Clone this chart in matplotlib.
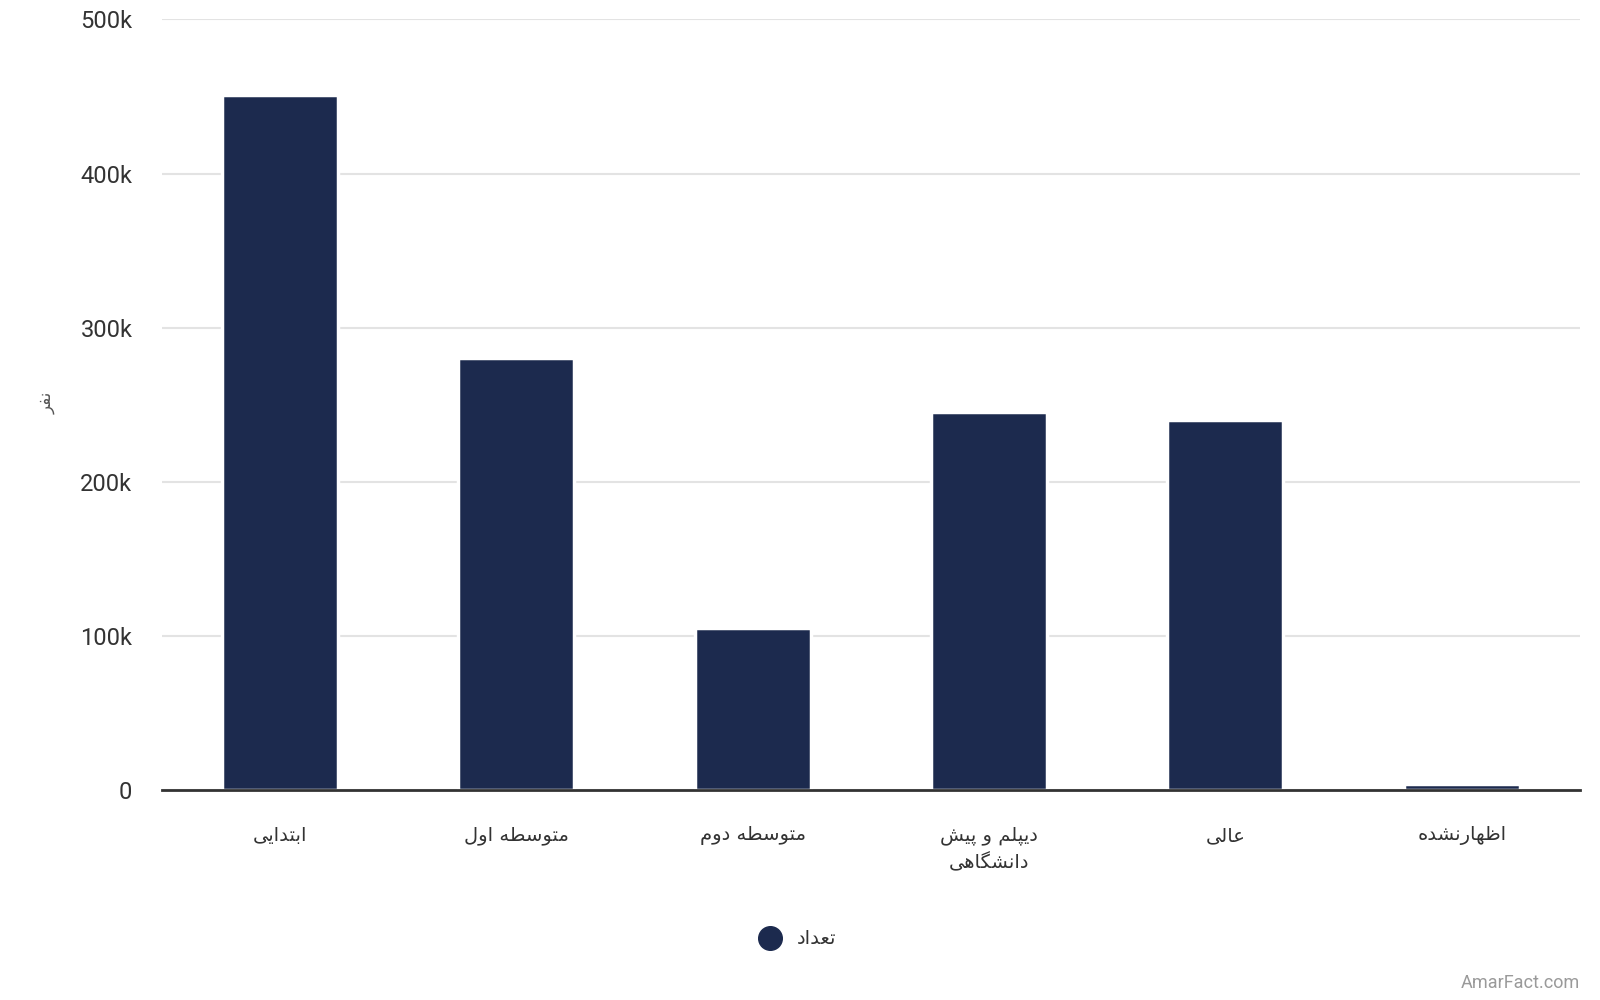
import matplotlib
matplotlib.use('Agg')
import matplotlib.pyplot as plt
from matplotlib.ticker import FuncFormatter
from matplotlib.lines import Line2D

# data
categories = ['ابتدایی', 'متوسطه اول', 'متوسطه دوم', 'دیپلم و پیش\nدانشگاهی', 'عالی', 'اظهارنشده']
values = [451000, 280000, 105000, 245000, 240000, 4000]
series_name = 'تعداد'
y_label = 'نفر'
y_ticks = [0, 100000, 200000, 300000, 400000, 500000]

bar_color = '#1c2a4e'
text_color = '#333333'

# matplotlib 3.10 has no arabic shaping, so pick contextual forms by hand
# (isolated, final, initial, medial)
FORMS = {
    'ا': ('\uFE8D', '\uFE8E', None, None),
    'ب': ('\uFE8F', '\uFE90', '\uFE91', '\uFE92'),
    'پ': ('\uFB56', '\uFB57', '\uFB58', '\uFB59'),
    'ت': ('\uFE95', '\uFE96', '\uFE97', '\uFE98'),
    'د': ('\uFEA9', '\uFEAA', None, None),
    'ر': ('\uFEAD', '\uFEAE', None, None),
    'س': ('\uFEB1', '\uFEB2', '\uFEB3', '\uFEB4'),
    'ش': ('\uFEB5', '\uFEB6', '\uFEB7', '\uFEB8'),
    'ط': ('\uFEC1', '\uFEC2', '\uFEC3', '\uFEC4'),
    'ظ': ('\uFEC5', '\uFEC6', '\uFEC7', '\uFEC8'),
    'ع': ('\uFEC9', '\uFECA', '\uFECB', '\uFECC'),
    'ف': ('\uFED1', '\uFED2', '\uFED3', '\uFED4'),
    'گ': ('\uFB92', '\uFB93', '\uFB94', '\uFB95'),
    'ل': ('\uFEDD', '\uFEDE', '\uFEDF', '\uFEE0'),
    'م': ('\uFEE1', '\uFEE2', '\uFEE3', '\uFEE4'),
    'ن': ('\uFEE5', '\uFEE6', '\uFEE7', '\uFEE8'),
    'ه': ('\uFEE9', '\uFEEA', '\uFEEB', '\uFEEC'),
    'و': ('\uFEED', '\uFEEE', None, None),
    'ی': ('\uFBFC', '\uFBFD', '\uFBFE', '\uFBFF'),
}


def dual(c):
    return c in FORMS and FORMS[c][2] is not None


def shape_line(s):
    out = []
    for i, c in enumerate(s):
        if c not in FORMS:
            out.append(c)
            continue
        prev = s[i - 1] if i > 0 else ''
        nxt = s[i + 1] if i + 1 < len(s) else ''
        jp = dual(prev)
        jn = dual(c) and nxt in FORMS
        iso, fin, ini, med = FORMS[c]
        if jp and jn:
            out.append(med)
        elif jp:
            out.append(fin)
        elif jn:
            out.append(ini)
        else:
            out.append(iso)
    return ''.join(out)[::-1]


def fa(s):
    return '\n'.join(shape_line(l) for l in s.split('\n'))


fig = plt.figure(figsize=(16, 10), dpi=100)
ax = fig.add_axes([0.101, 0.21, 0.8865, 0.7706])

x = list(range(len(categories)))
ax.bar(x, values, width=0.49, color=bar_color, edgecolor='white', linewidth=2.5, zorder=3)

ax.set_xlim(-0.5, len(categories) - 0.5)
ax.set_ylim(0, 500000)
ax.set_yticks(y_ticks)
ax.yaxis.set_major_formatter(FuncFormatter(lambda v, p: '0' if v == 0 else f'{int(v / 1000)}k'))
ax.grid(axis='y', color='#e3e3e3', linewidth=1.5, zorder=0)
ax.set_axisbelow(True)

for s in ['top', 'right', 'left']:
    ax.spines[s].set_visible(False)
ax.spines['bottom'].set_color(text_color)
ax.spines['bottom'].set_linewidth(2)
ax.spines['bottom'].set_zorder(4)

ax.tick_params(axis='y', length=0, pad=21, labelsize=17, labelcolor=text_color)
for t in ax.get_yticklabels():
    t.set_family('Roboto')
    t.set_va('center_baseline')
ax.set_xticks(x)
ax.set_xticklabels([fa(c) for c in categories], family='DejaVu Sans', fontsize=14,
                   color=text_color, linespacing=1.5, va='top')
ax.tick_params(axis='x', length=0, pad=26)

fig.text(0.029, 0.597, fa(y_label), rotation=90, ha='center', va='center',
         fontsize=12, color='#555555', family='DejaVu Sans')

# legend
handle = Line2D([], [], marker='o', linestyle='none', markersize=17,
                markerfacecolor=bar_color, markeredgecolor=bar_color)
fig.legend([handle], [fa(series_name)], loc='center', bbox_to_anchor=(0.496, 0.061),
           frameon=False, prop={'family': 'DejaVu Sans', 'size': 14},
           handletextpad=0.4, labelcolor=text_color)

fig.text(0.9875, 0.017, 'AmarFact.com', ha='right', va='center', fontsize=13,
         color='#9a9a9a', family='Roboto')

fig.savefig('out.png', dpi=100, facecolor='white')
